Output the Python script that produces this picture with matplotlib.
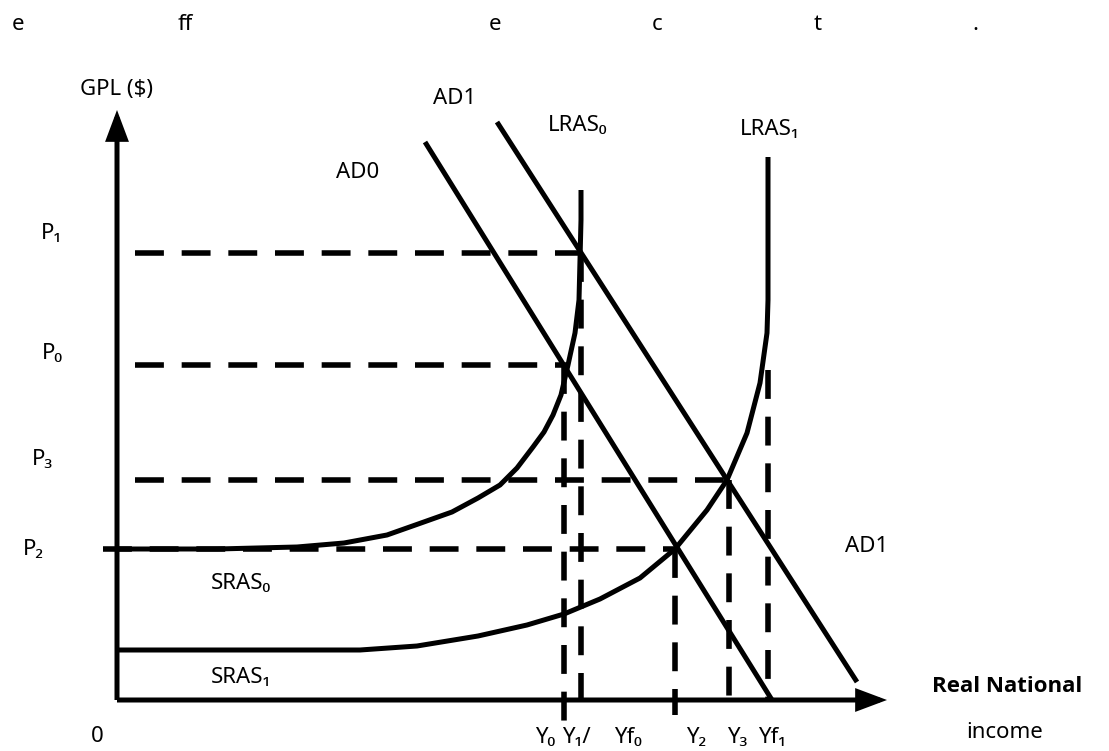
import matplotlib.pyplot as plt
from matplotlib.patches import FancyArrowPatch

plt.rcParams['font.family'] = ['Noto Sans', 'DejaVu Sans']

# price levels and income levels (origin at the axes corner)
P1, P0, P3, P2 = 447, 335, 220, 151
Y0, Y1, Y2, Y3, YF1 = 447, 464, 558, 612, 651

# aggregate demand lines (start, end)
ad0_x = [308, 655]
ad0_y = [558, 0]
ad1_x = [380, 740]
ad1_y = [578, 18]

# short-run supply curves, bending into the long-run vertical
sras0_x = [0, 100, 180, 227, 270, 304, 335, 361, 383, 400, 416, 427, 436, 444, 451, 458, 462, 463, 464, 464]
sras0_y = [151, 151, 153, 157, 165, 177, 188, 202, 215, 232, 253, 268, 285, 305, 335, 367, 400, 440, 480, 510]
sras1_x = [0, 243, 300, 361, 410, 447, 483, 523, 558, 590, 610, 630, 643, 650, 651, 651]
sras1_y = [50, 50, 54, 64, 75, 86, 101, 122, 151, 190, 220, 267, 317, 367, 400, 543]

# dashed guides: (x0, x1, y) horizontals and (x, y0, y1) verticals
h_guides = [(18, 464, P1), (18, 451, P0), (18, 611, P3), (-14, 558, P2)]
v_guides = [(Y0, P0, -22), (Y1, P1, 0), (Y2, P2, -15), (Y3, P3, 0), (YF1, 330, 0)]

y_labels = ['Y\u2080', 'Y\u2081/', 'Yf\u2080', 'Y\u2082', 'Y\u2083', 'Yf\u2081']
y_label_x = [428, 459, 511, 579, 620, 655]
p_labels = ['P\u2081', 'P\u2080', 'P\u2083', 'P\u2082']
p_label_pos = [(-65, 467), (-65, 347), (-75, 240), (-84, 151)]

title_chars = ['e', 'ff', 'e', 'c', 't', '.']
title_x = [-99, 68, 378, 540, 701, 858]

fig = plt.figure(figsize=(11.09, 7.51), dpi=100)
ax = fig.add_axes([0, 0, 1, 1])
ax.set_xlim(-117, 992)
ax.set_ylim(-51, 700)
ax.axis('off')

LW = 3.6
fs = 16

# axes with arrows
for start, end in [((0, 0), (0, 590)), ((0, 0), (770, 0))]:
    arr = FancyArrowPatch(start, end, arrowstyle='-|>,head_length=0.8,head_width=0.3',
                          mutation_scale=20, lw=LW, color='black', shrinkA=0, shrinkB=0,
                          joinstyle='miter', capstyle='butt')
    ax.add_patch(arr)

for xs, ys in [(ad0_x, ad0_y), (ad1_x, ad1_y), (sras0_x, sras0_y), (sras1_x, sras1_y)]:
    ax.plot(xs, ys, color='black', lw=LW, solid_capstyle='butt', solid_joinstyle='round')

for x0, x1, y in h_guides:
    ax.plot([x0, x1], [y, y], color='black', lw=4, dashes=(5.2, 3.2), dash_capstyle='butt')
for x, y0, y1 in v_guides:
    ax.plot([x, x], [y0, y1], color='black', lw=4, dashes=(5.2, 3.2), dash_capstyle='butt')

# labels
ax.text(0, 610, 'GPL ($)', fontsize=fs, ha='center', va='center')
ax.text(338, 602, 'AD1', fontsize=fs, ha='center', va='center')
ax.text(241, 528, 'AD0', fontsize=fs, ha='center', va='center')
ax.text(461, 575, 'LRAS\u2080', fontsize=fs, ha='center', va='center')
ax.text(653, 570, 'LRAS\u2081', fontsize=fs, ha='center', va='center')
ax.text(750, 153, 'AD1', fontsize=fs, ha='center', va='center')
ax.text(124, 117, 'SRAS\u2080', fontsize=fs, ha='center', va='center')
ax.text(124, 23, 'SRAS\u2081', fontsize=fs, ha='center', va='center')
ax.text(-20, -36, '0', fontsize=fs, ha='center', va='center')
ax.text(890, 13, 'Real National', fontsize=fs, fontweight='bold', family=['Open Sans', 'DejaVu Sans'],
        ha='center', va='center')
ax.text(888, -32, 'income', fontsize=fs, ha='center', va='center')

for lab, (x, y) in zip(p_labels, p_label_pos):
    ax.text(x, y, lab, fontsize=fs, ha='center', va='center')
for lab, x in zip(y_labels, y_label_x):
    ax.text(x, -37, lab, fontsize=fs, ha='center', va='center')
for ch, x in zip(title_chars, title_x):
    ax.text(x, 675, ch, fontsize=fs, ha='center', va='center')

fig.savefig('out.png', dpi=100)
